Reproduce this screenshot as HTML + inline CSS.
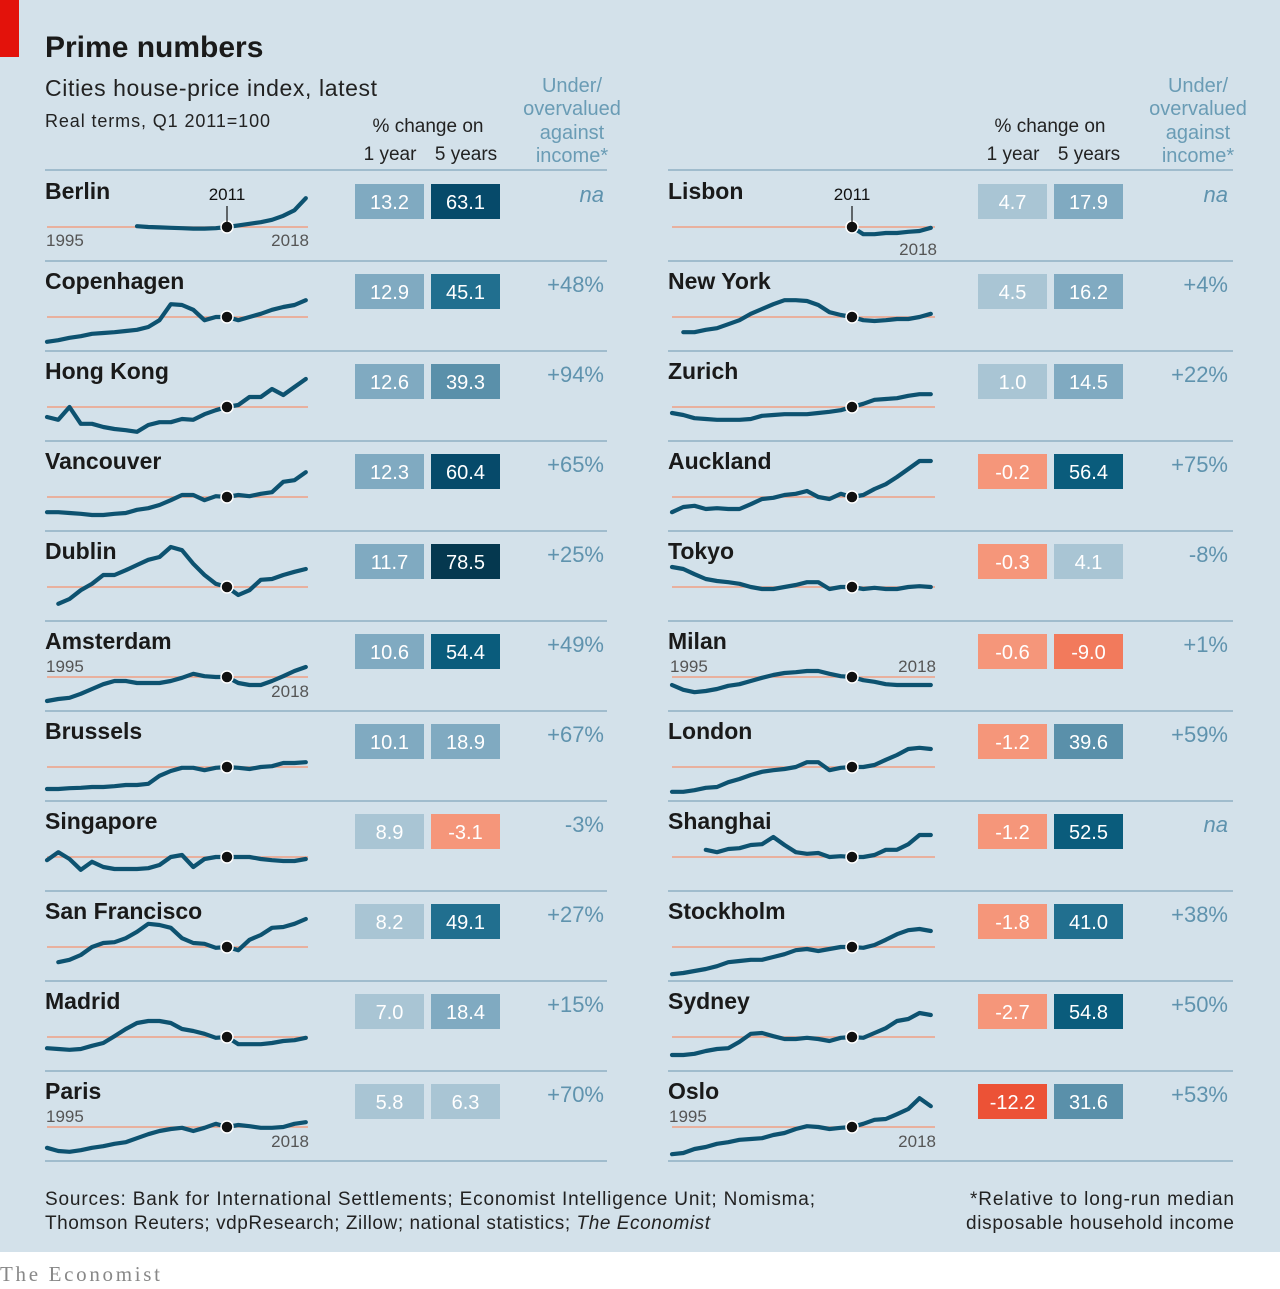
<!DOCTYPE html>
<html><head><meta charset="utf-8">
<style>
html,body{margin:0;padding:0;background:#fff;}
svg{display:block;font-family:"Liberation Sans",sans-serif;}
</style></head>
<body>
<svg id="chart" width="1280" height="1289" viewBox="0 0 1280 1289" xmlns="http://www.w3.org/2000/svg">
<rect x="0" y="0" width="1280" height="1252" fill="#d3e1ea"/>
<rect x="0" y="0" width="19" height="57" fill="#e3120b"/>
<text x="45" y="57" font-size="30" font-weight="bold" fill="#1a1a1a">Prime numbers</text>
<text x="45" y="96" font-size="23" fill="#222" textLength="332">Cities house-price index, latest</text>
<text x="45" y="127" font-size="18" fill="#222" textLength="225">Real terms, Q1 2011=100</text>
<g font-size="19" fill="#222" text-anchor="middle">
<text x="428" y="132">% change on</text><text x="390" y="160">1 year</text><text x="466" y="160">5 years</text>
</g>
<g font-size="20" fill="#6a9cb5" text-anchor="middle">
<text x="572" y="92">Under/</text><text x="572" y="115">overvalued</text><text x="572" y="139">against</text><text x="572" y="162">income*</text>
</g>
<g font-size="19" fill="#222" text-anchor="middle">
<text x="1050" y="132">% change on</text><text x="1013" y="160">1 year</text><text x="1089" y="160">5 years</text>
</g>
<g font-size="20" fill="#6a9cb5" text-anchor="middle">
<text x="1198" y="92">Under/</text><text x="1198" y="115">overvalued</text><text x="1198" y="139">against</text><text x="1198" y="162">income*</text>
</g>
<g id="rows"></g>
<g font-size="19" fill="#222">
<text x="45" y="1205" textLength="770">Sources: Bank for International Settlements; Economist Intelligence Unit; Nomisma;</text>
<text x="45" y="1229" textLength="665">Thomson Reuters; vdpResearch; Zillow; national statistics; <tspan font-style="italic">The Economist</tspan></text>
</g>
<g font-size="19" fill="#222">
<text x="970" y="1205" textLength="264">*Relative to long-run median</text>
<text x="966" y="1229" textLength="268">disposable household income</text>
</g>
<text x="0" y="1281" font-size="21" fill="#888" font-family="'Liberation Serif',serif" textLength="160">The Economist</text>
</svg>
<script>
const cities = ["Berlin","Copenhagen","Hong Kong","Vancouver","Dublin","Amsterdam","Brussels","Singapore","San Francisco","Madrid","Paris",
"Lisbon","New York","Zurich","Auckland","Tokyo","Milan","London","Shanghai","Stockholm","Sydney","Oslo"];
const oneYear = [13.2,12.9,12.6,12.3,11.7,10.6,10.1,8.9,8.2,7.0,5.8,4.7,4.5,1.0,-0.2,-0.3,-0.6,-1.2,-1.2,-1.8,-2.7,-12.2];
const fiveYears = [63.1,45.1,39.3,60.4,78.5,54.4,18.9,-3.1,49.1,18.4,6.3,17.9,16.2,14.5,56.4,4.1,-9.0,39.6,52.5,41.0,54.8,31.6];
const valuation = ["na","+48%","+94%","+65%","+25%","+49%","+67%","-3%","+27%","+15%","+70%","na","+4%","+22%","+75%","-8%","+1%","+59%","na","+38%","+50%","+53%"];
const years = [1995,1996,1997,1998,1999,2000,2001,2002,2003,2004,2005,2006,2007,2008,2009,2010,2011,2012,2013,2014,2015,2016,2017,2018];
const berlin = [null,null,null,null,null,null,null,null,102,100,99,98,97,96,96,97,100,104,108,112,118,128,142,172];
const copenhagen = [38,42,48,52,58,60,62,65,68,75,92,132,130,118,92,100,100,92,100,108,118,125,130,142];
const hongKong = [75,68,100,58,58,50,45,42,38,55,62,62,70,68,82,92,100,105,125,125,145,130,150,170];
const vancouver = [62,62,60,58,55,55,58,60,68,72,80,92,105,105,92,102,100,105,102,108,112,138,142,162];
const dublin = [null,58,70,92,108,130,130,142,155,168,175,200,192,158,130,108,100,80,92,118,120,130,138,145];
const amsterdam = [40,45,48,58,70,82,90,90,85,85,85,90,98,108,102,100,100,85,80,80,90,102,115,125];
const brussels = [45,45,47,48,50,50,52,55,55,58,78,90,98,98,92,98,100,98,95,100,102,110,110,112];
const singapore = [92,112,95,68,88,75,70,70,70,72,80,100,105,75,95,100,100,100,100,95,92,90,90,95];
const sanFrancisco = [null,62,68,80,100,110,112,122,138,158,155,148,122,110,108,98,100,92,118,130,148,150,158,170];
const madrid = [72,70,68,70,78,85,102,120,135,140,140,135,120,115,108,98,100,82,82,82,85,90,92,98];
const paris = [48,40,38,42,48,52,58,62,72,82,90,95,98,90,98,108,100,105,102,98,98,100,108,112];
const lisbon = [null,null,null,null,null,null,null,null,null,null,null,null,null,null,null,null,100,82,82,85,85,88,90,98];
const newYork = [null,62,62,68,72,82,92,108,120,132,142,142,140,130,112,105,100,92,90,92,95,95,100,108];
const zurich = [85,80,72,70,68,68,68,70,78,80,82,82,82,85,88,92,100,108,118,120,122,128,132,132];
const auckland = [62,75,78,70,72,70,70,82,95,98,105,108,115,100,95,108,100,105,120,132,150,170,190,190];
const tokyo = [150,145,132,120,115,112,108,100,95,95,100,105,112,112,95,100,100,95,98,95,95,100,102,100];
const milan = [80,68,62,65,70,78,82,90,98,105,110,112,115,115,108,102,100,92,88,82,80,80,80,80];
const london = [38,38,42,48,50,62,70,80,88,92,95,100,112,112,92,98,100,100,105,118,130,145,148,145];
const shanghai = [null,null,null,118,112,120,122,130,132,150,130,112,108,110,100,102,100,100,105,118,118,132,155,155];
const stockholm = [32,35,40,45,52,62,65,68,68,75,82,92,95,90,95,100,100,98,105,118,132,142,145,140];
const sydney = [55,55,58,65,70,72,88,108,110,102,95,95,98,95,90,98,100,98,110,122,140,145,160,155];
const oslo = [32,35,45,50,58,62,68,70,72,80,85,95,102,100,95,98,100,108,118,120,132,145,172,152];
const seriesList = [berlin,copenhagen,hongKong,vancouver,dublin,amsterdam,brussels,singapore,sanFrancisco,madrid,paris,
lisbon,newYork,zurich,auckland,tokyo,milan,london,shanghai,stockholm,sydney,oslo];

const NS = "http://www.w3.org/2000/svg";
const root = document.getElementById("rows");
function mk(tag, attrs, parent){const e=document.createElementNS(NS,tag);for(const k in attrs)e.setAttribute(k,attrs[k]);parent.appendChild(e);return e;}
function boxColor(v){
  if(v<-10) return "#ec5236";
  if(v<-5) return "#f27a5c";
  if(v<0) return "#f5967a";
  if(v<10) return "#a9c5d4";
  if(v<25) return "#80aac1";
  if(v<40) return "#5a90aa";
  if(v<50) return "#216f8f";
  if(v<60) return "#0a5c7c";
  if(v<70) return "#064a6a";
  return "#05384f";
}
const yearPx = 11.25, idxPx = 0.4;

cities.forEach((name,i)=>{
  const right = i>=11;
  const r = right? i-11 : i;
  const top = 172 + 90*r;
  const x0 = right? 668 : 45;
  const sx0 = right? 672 : 47;
  const sx1 = right? 935 : 308;
  const base = top + 55;
  const bx = right? 978 : 355;
  const vx = right? 1228 : 604;
  const g = mk("g",{},root);
  
  
  if(r===0){
    const tl = mk("line",{x1:x0,x2:right?1233:607,y1:170,y2:170,stroke:"#8fb0c3","stroke-width":1.5},g);
    
    
  }
  const sep = mk("line",{x1:x0,x2:right?1233:607,y1:top+89,y2:top+89,stroke:"#8fb0c3","stroke-width":1.5},g);
  
  
  const t = mk("text",{x:x0,y:top+27,"font-size":23,"font-weight":"bold",fill:"#1a1a1a"},g);
  t.textContent = name;
  
  
  const bl = mk("line",{x1:sx0,x2:sx1,y1:base,y2:base,stroke:"#f0a085","stroke-width":1.5},g);
  
  
  const s = seriesList[i];
  const xOf = yr => sx0 + (yr-1995)*yearPx;
  const yOf = v => base - (v-100)*idxPx;
  let d = "";
  s.forEach((v,k)=>{ if(v===null) return; d += (d?"L":"M") + xOf(years[k]).toFixed(1) + "," + yOf(v).toFixed(1); });
  const p = mk("path",{d:d,fill:"none",stroke:"#0d5270","stroke-width":4.2,"stroke-linejoin":"round","stroke-linecap":"round"},g);
  
  
  const dot = mk("circle",{cx:xOf(2011),cy:yOf(100),r:6,fill:"#111",stroke:"#fff","stroke-width":1.5},g);
  
  
  const lab = (txt,x,y,anchor)=>{const e=mk("text",{x:x,y:y,"font-size":17,fill:"#555","text-anchor":anchor},g);e.textContent=txt;};
  if(name==="Berlin"){lab("1995",46,246,"start");lab("2018",309,246,"end");}
  if(name==="Amsterdam"||name==="Paris"||name==="Oslo"){lab("1995",x0+1,top+50,"start");lab("2018",sx1+1,top+75,"end");}
  if(name==="Milan"){lab("1995",x0+2,top+50,"start");lab("2018",sx1+1,top+50,"end");}
  if(name==="Lisbon"){lab("2018",sx1+2,top+83,"end");}
  if(name==="Berlin"||name==="Lisbon"){
    const tk = mk("line",{x1:xOf(2011),x2:xOf(2011),y1:base-21,y2:base-5,stroke:"#111","stroke-width":1.2},g);
    
    const e=mk("text",{x:xOf(2011),y:base-27,"font-size":17,fill:"#111","text-anchor":"middle"},g);
    e.textContent="2011";
  }
  [[oneYear[i],bx,'one-year-box'],[fiveYears[i],bx+76,'five-year-box']].forEach(([v,x,nm])=>{
    const r1 = mk("rect",{x:x,y:top+12,width:69,height:35,fill:boxColor(v)},g);
    
    
    const tt = mk("text",{x:x+34.5,y:top+37,"font-size":20,fill:"#fff","text-anchor":"middle"},g);
    tt.textContent = v.toFixed(1);
    
    
  });
  const vt = mk("text",{x:vx,y:top+30,"font-size":22,fill:"#5f93ae","text-anchor":"end"},g);
  if(valuation[i]==="na"){vt.setAttribute("font-style","italic");}
  vt.textContent = valuation[i];
  
  
});
</script>
</body></html>
